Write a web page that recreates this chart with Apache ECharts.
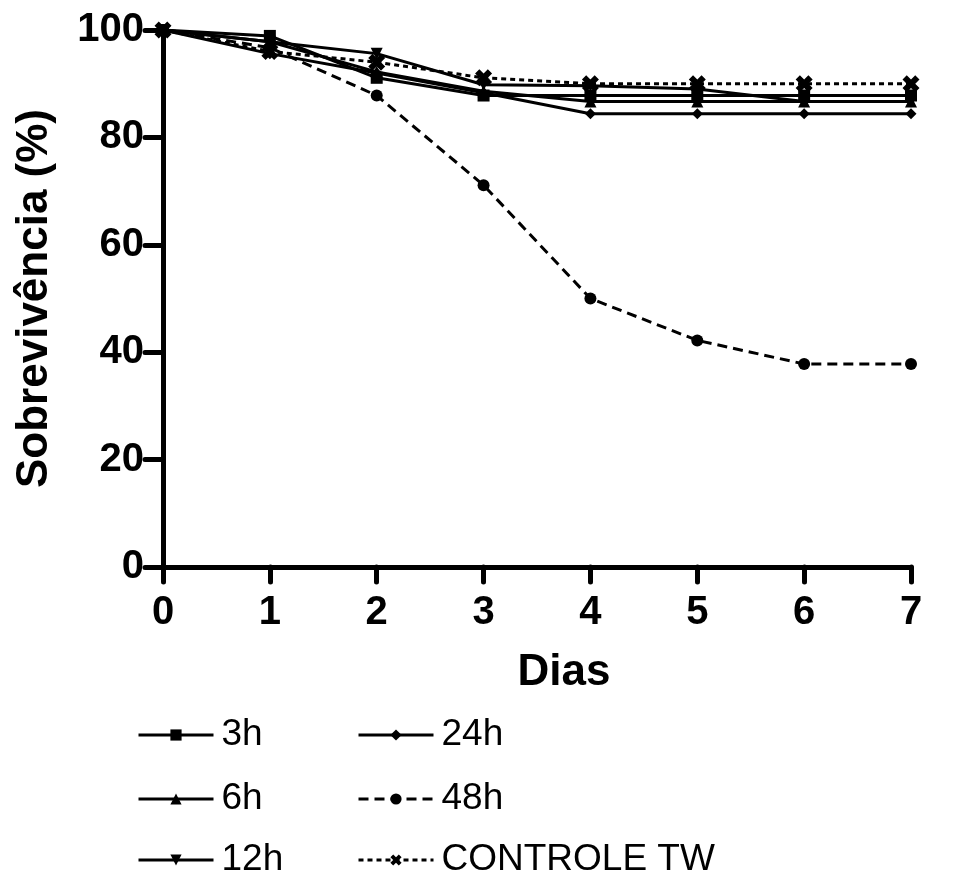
<!DOCTYPE html>
<html>
<head>
<meta charset="utf-8">
<script src="https://cdn.jsdelivr.net/npm/echarts@6/dist/echarts.min.js"></script>
<style>html,body{margin:0;padding:0;background:#fff}#c{width:961px;height:872px}</style>
</head>
<body>
<div id="c"></div>
<script>
const dias = [0, 1, 2, 3, 4, 5, 6, 7];
const xTicks = [0, 1, 2, 3, 4, 5, 6, 7];
const yTicks = [0, 20, 40, 60, 80, 100];
const seriesNames = ['3h', '6h', '12h', '24h', '48h', 'CONTROLE TW'];
const s3h = [100, 98.9, 91.1, 87.8, 87.8, 87.8, 87.8, 87.8];
const s6h = [100, 97.8, 92.2, 88.6, 86.7, 86.7, 86.7, 86.7];
const s12h = [100, 97.8, 95.6, 89.8, 89.6, 89.0, 86.7, 86.7];
const s24h = [100, 95.6, 92.0, 88.3, 84.4, 84.4, 84.4, 84.4];
const s48h = [100, 96.7, 87.8, 71.1, 50.0, 42.2, 37.8, 37.8];
const sCtrl = [100, 96.0, 94.0, 91.1, 90.0, 90.0, 90.0, 90.0];

const FONT = '"Liberation Sans", Arial, sans-serif';
const X_PATH = 'path://M0,2.5 L2.5,0 L5,2.5 L7.5,0 L10,2.5 L7.5,5 L10,7.5 L7.5,10 L5,7.5 L2.5,10 L0,7.5 L2.5,5 Z';

function pts(arr) { return dias.map((d, i) => [d, arr[i]]); }
function mk(name, arr, symbol, size, type, rotate) {
  return {
    name: name, type: 'line', data: pts(arr),
    symbol: symbol, symbolSize: size, symbolRotate: rotate || 0,
    showSymbol: true,
    lineStyle: { color: '#000', width: 3, type: type },
    itemStyle: { color: '#000', borderWidth: 0 },
    emphasis: { disabled: true },
    animation: false, z: 3
  };
}

const legendPos = [
  { left: 137, top: 715 }, { left: 137, top: 779 }, { left: 137, top: 840 },
  { left: 357, top: 715 }, { left: 357, top: 779 }, { left: 357, top: 840 }
];
const legends = seriesNames.map((n, i) => ({
  orient: 'horizontal', left: legendPos[i].left, top: legendPos[i].top,
  itemWidth: 75, itemHeight: 14, padding: 0,
  lineStyle: { width: 3 },
  textStyle: { fontFamily: FONT, fontSize: 37, lineHeight: 40, color: '#000', padding: [0, 0, 0, 3] },
  selectedMode: false, data: [n]
}));

const chart = echarts.init(document.getElementById('c'), null, { renderer: 'canvas' });
chart.setOption({
  backgroundColor: '#fff',
  animation: false,
  grid: { left: 163, right: 50, top: 30, bottom: 305, containLabel: false },
  xAxis: {
    type: 'value', min: 0, max: 7, interval: 1,
    name: 'Dias', nameLocation: 'middle', nameGap: 84,
    nameTextStyle: { fontFamily: FONT, fontSize: 44, fontWeight: 'bold', color: '#000', padding: [0, 0, 0, 54] },
    axisLine: { lineStyle: { color: '#000', width: 5, cap: 'round' } },
    axisTick: { show: true, inside: false, length: 15, lineStyle: { color: '#000', width: 5, cap: 'round' } },
    axisLabel: { fontFamily: FONT, fontSize: 40, fontWeight: 'bold', color: '#000', margin: 26,
      formatter: v => xTicks.includes(v) ? String(v) : '' },
    splitLine: { show: false }
  },
  yAxis: {
    type: 'value', min: 0, max: 100, interval: 20,
    name: 'Sobrevivência (%)', nameLocation: 'middle', nameGap: 106, nameRotate: 90,
    nameTextStyle: { fontFamily: FONT, fontSize: 44, fontWeight: 'bold', color: '#000' },
    axisLine: { lineStyle: { color: '#000', width: 5, cap: 'round' } },
    axisTick: { show: true, inside: false, length: 18, lineStyle: { color: '#000', width: 5, cap: 'round' } },
    axisLabel: { fontFamily: FONT, fontSize: 40, fontWeight: 'bold', color: '#000', margin: 19,
      formatter: v => yTicks.includes(v) ? String(v) : '' },
    splitLine: { show: false }
  },
  legend: legends,
  series: [
    mk('3h', s3h, 'rect', 12, 'solid'),
    mk('6h', s6h, 'triangle', 12, 'solid'),
    mk('12h', s12h, 'triangle', 12, 'solid', 180),
    mk('24h', s24h, 'diamond', 11, 'solid'),
    mk('48h', s48h, 'circle', 12, [10, 6]),
    mk('CONTROLE TW', sCtrl, X_PATH, 17, [5, 4])
  ]
});
</script>
</body>
</html>
